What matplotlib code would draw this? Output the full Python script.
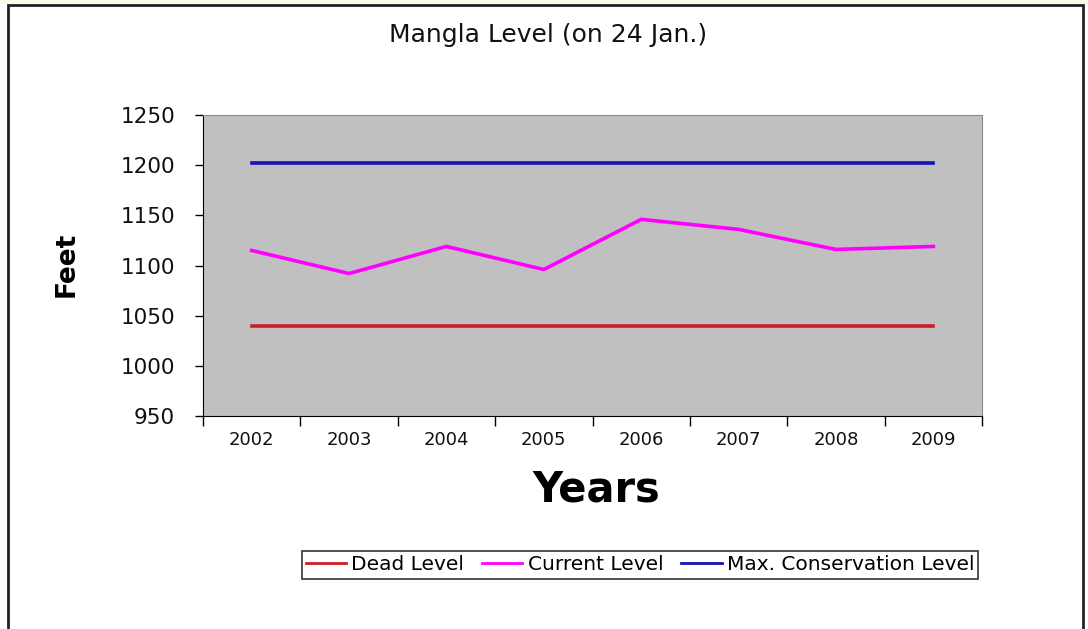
import matplotlib.pyplot as plt
from matplotlib.patches import Rectangle

years = ['2002', '2003', '2004', '2005', '2006', '2007', '2008', '2009']
dead_level = [1040, 1040, 1040, 1040, 1040, 1040, 1040, 1040]
current_level = [1115, 1092, 1119, 1096, 1146, 1136, 1116, 1119]
max_conservation = [1202, 1202, 1202, 1202, 1202, 1202, 1202, 1202]
y_ticks = [950, 1000, 1050, 1100, 1150, 1200, 1250]

W, H = 1088, 629
fig = plt.figure(figsize=(W / 100, H / 100), dpi=100)
fig.patch.set_facecolor('white')

# outer chart frame (bottom edge runs off the picture)
fig.patches.append(Rectangle((8 / W, -0.05), 1075 / W, 1.05 - 5 / H, transform=fig.transFigure,
                             fill=False, edgecolor='#222222', linewidth=2))
fig.patches.append(Rectangle((0, 1 - 4 / H), 1, 4 / H, transform=fig.transFigure,
                             facecolor='#fdfbe6', edgecolor='none'))

ax = fig.add_axes([203 / W, 1 - 416 / H, 779 / W, 301 / H])
ax.set_facecolor('#c0c0c0')

x = list(range(len(years)))
ax.plot(x, dead_level, color='#cc1e28', linewidth=2.6, label='Dead Level')
ax.plot(x, current_level, color='#ff00ff', linewidth=2.6, label='Current Level')
ax.plot(x, max_conservation, color='#1414b4', linewidth=2.6, label='Max. Conservation Level')

ax.set_xlim(-0.5, len(years) - 0.5)
ax.set_ylim(950, 1250)

ax.set_yticks(y_ticks)
ax.set_yticklabels([str(v) for v in y_ticks], fontsize=15.5, color='#111111')
ax.tick_params(axis='y', direction='out', length=6, width=1, pad=14)

# ticks between categories, labels at centres
ax.set_xticks([i - 0.5 for i in range(len(years) + 1)])
ax.set_xticklabels([])
ax.set_xticks(x, minor=True)
ax.set_xticklabels(years, minor=True, fontsize=13, color='#111111')
ax.tick_params(axis='x', which='major', direction='out', length=7, width=1)
ax.tick_params(axis='x', which='minor', length=0, pad=11)

for s in ['top', 'right']:
    ax.spines[s].set_color('#8c8c8c')
for s in ['left', 'bottom']:
    ax.spines[s].set_color('black')

fig.text(548 / W, 1 - 35 / H, 'Mangla Level (on 24 Jan.)', ha='center', va='center',
         fontsize=18, color='#111111')
fig.text(67 / W, 1 - 264 / H, 'Feet', ha='center', va='center', rotation=90,
         fontsize=19, fontweight='bold')
fig.text(596 / W, 1 - 489 / H, 'Years', ha='center', va='center',
         fontsize=30, fontweight='bold')

leg = fig.legend(loc='center', bbox_to_anchor=(640 / W, 1 - 565 / H), ncol=3,
                 fontsize=14.5, frameon=True, fancybox=False, handlelength=2.0,
                 handletextpad=0.25, columnspacing=0.9, borderpad=0.2)
leg.get_frame().set_edgecolor('black')
leg.get_frame().set_linewidth(1.2)
for line in leg.get_lines():
    line.set_linewidth(2)

fig.savefig('out.png', dpi=100)
